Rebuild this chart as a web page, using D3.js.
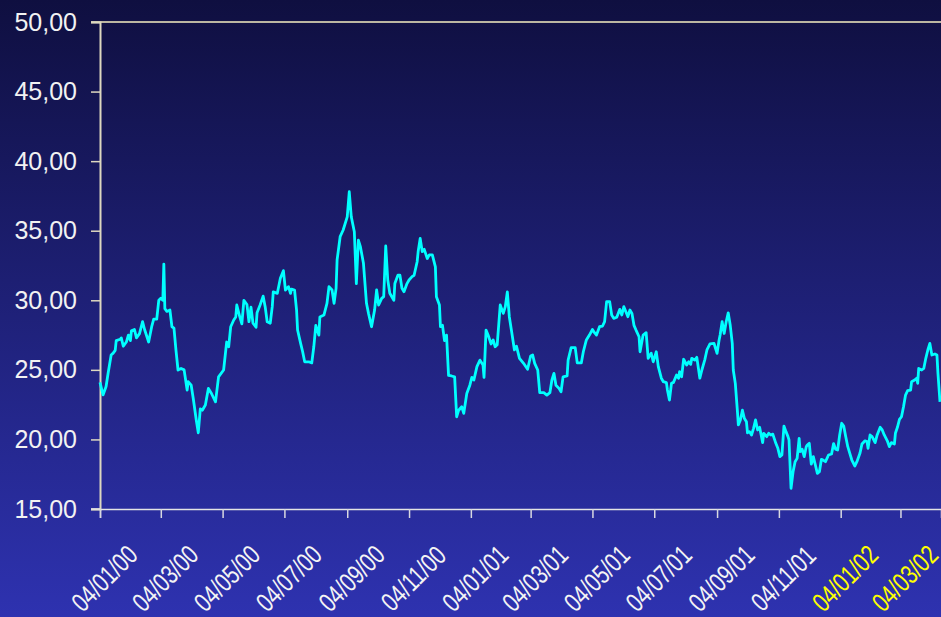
<!DOCTYPE html>
<html>
<head>
<meta charset="utf-8">
<script src="https://cdn.jsdelivr.net/npm/d3@7"></script>
<style>
  html, body { margin: 0; padding: 0; overflow: hidden; }
  svg { display: block; }
</style>
</head>
<body>
<div id="chart"></div>
<script>
// start of the series: 04/01/00
var startDate = "2000-01-04";

// days after start
var dayOffsets = [0, 3, 6, 8, 11, 13, 15, 16, 20, 21, 23, 26, 28, 30, 31, 34, 36, 39, 42, 44,
    48, 51, 53, 56, 58, 60, 62, 63, 64, 66, 69, 71, 73, 75, 77, 80, 83, 86, 87, 90,
    92, 95, 97, 99, 101, 104, 107, 110, 114, 117, 122, 125, 127, 129, 132, 134, 135, 138, 140, 142,
    145, 147, 149, 151, 154, 155, 158, 161, 163, 165, 168, 170, 171, 175, 176, 178, 181, 183, 186, 188,
    189, 192, 194, 195, 198, 200, 202, 206, 209, 211, 213, 216, 217, 221, 224, 226, 229, 231, 233, 234,
    237, 240, 244, 246, 248, 251, 253, 255, 257, 260, 263, 265, 268, 271, 273, 275, 278, 280, 282, 284,
    286, 290, 291, 294, 296, 298, 300, 303, 305, 308, 310, 313, 314, 316, 318, 320, 323, 325, 328, 331,
    332, 335, 336, 338, 340, 342, 344, 347, 350, 352, 354, 357, 359, 362, 365, 367, 369, 372, 375, 378,
    379, 381, 383, 386, 388, 390, 392, 395, 398, 400, 402, 404, 406, 409, 411, 414, 418, 422, 425, 427,
    429, 432, 434, 438, 441, 444, 446, 448, 450, 453, 455, 457, 461, 462, 465, 469, 471, 475, 477, 480,
    483, 486, 488, 490, 493, 496, 498, 500, 503, 505, 507, 510, 513, 515, 517, 519, 521, 523, 525, 527,
    529, 532, 533, 536, 539, 541, 544, 546, 549, 551, 554, 556, 559, 560, 562, 564, 566, 569, 571, 572,
    574, 576, 579, 581, 583, 584, 587, 589, 592, 594, 597, 599, 602, 606, 607, 609, 611, 612, 614, 616,
    618, 620, 622, 624, 625, 627, 629, 630, 632, 634, 636, 638, 639, 641, 643, 645, 647, 649, 651, 654,
    655, 658, 660, 662, 664, 667, 669, 671, 673, 675, 677, 679, 680, 682, 684, 686, 688, 690, 691, 693,
    695, 697, 698, 700, 702, 704, 706, 708, 710, 712, 714, 716, 719, 722, 724, 726, 728, 730, 732, 734,
    736, 738, 740, 742, 745, 747, 750, 752, 755, 757, 758, 760, 762, 765, 767, 770, 772, 774, 777, 779,
    781, 784, 785, 787, 789, 791, 793, 795, 797, 800, 801, 804, 806, 807, 808, 811, 813, 815, 817, 819,
    821, 824, 826, 827, 829];

var prices = [24.1, 23.2, 23.8, 24.75, 26.07, 26.2, 26.4, 27.1, 27.2, 27.3, 26.7, 27.0, 27.5, 27.1, 27.8, 27.9, 27.3, 27.6, 28.46, 27.9,
    27.0, 28.1, 28.65, 28.65, 30.0, 30.14, 30.0, 32.6, 29.4, 29.2, 29.3, 28.1, 28.0, 26.4, 24.99, 25.1, 25.0, 23.55, 24.15, 23.9,
    22.96, 21.4, 20.48, 22.2, 22.1, 22.47, 23.67, 23.3, 22.7, 24.5, 24.99, 27.0, 26.66, 28.1, 28.58, 28.8, 29.66, 28.8, 28.3, 30.0,
    29.7, 28.46, 29.5, 28.35, 28.06, 29.1, 29.66, 30.3, 29.54, 28.46, 28.35, 29.54, 30.6, 30.5, 30.86, 31.58, 32.13, 30.74, 30.98, 30.5,
    30.8, 30.74, 29.3, 27.86, 26.9, 26.3, 25.58, 25.58, 25.5, 26.66, 28.2, 27.5, 28.8, 28.94, 29.78, 30.98, 30.74, 29.78, 30.86, 32.9,
    34.57, 35.05, 36.0, 37.8, 36.0, 34.93, 31.2, 34.33, 33.85, 32.66, 29.78, 29.06, 28.1, 29.3, 30.74, 29.66, 30.14, 30.26, 33.9, 31.46,
    30.5, 30.0, 31.2, 31.8, 31.8, 30.86, 30.62, 31.2, 31.46, 31.7, 31.8, 32.77, 33.5, 34.45, 33.5, 33.66, 33.0, 33.26, 33.26, 32.4,
    30.26, 29.66, 28.1, 28.2, 27.1, 27.5, 24.6, 24.56, 24.5, 21.63, 22.1, 22.35, 21.87, 23.3, 23.9, 24.46, 24.27, 25.23, 25.7, 25.35,
    24.46, 27.86, 27.5, 26.86, 27.15, 26.66, 26.8, 29.66, 29.06, 29.54, 30.6, 28.8, 27.86, 26.43, 26.7, 25.83, 25.47, 25.04, 26.0, 26.07,
    25.47, 24.99, 23.36, 23.36, 23.19, 23.36, 24.27, 24.75, 23.9, 23.67, 23.43, 24.5, 24.56, 25.7, 26.6, 26.6, 25.5, 25.5, 26.3, 27.15,
    27.5, 27.9, 27.67, 27.5, 28.1, 28.15, 28.46, 29.9, 29.9, 28.94, 28.7, 28.78, 29.35, 28.94, 29.54, 29.18, 28.82, 29.3, 29.06, 28.2,
    27.86, 27.38, 26.3, 27.5, 27.67, 25.83, 26.19, 25.58, 26.3, 25.23, 24.4, 24.15, 24.08, 23.55, 22.83, 24.03, 24.1, 24.63, 24.4, 24.87,
    24.5, 25.76, 25.35, 25.58, 25.4, 25.83, 25.7, 25.9, 24.4, 24.99, 25.76, 26.43, 26.86, 26.9, 26.66, 26.19, 27.15, 27.5, 28.46, 27.62,
    28.46, 29.1, 28.2, 26.9, 24.99, 24.03, 22.1, 21.04, 21.4, 22.1, 21.5, 21.27, 20.48, 20.56, 20.32, 20.8, 21.4, 20.68, 20.87, 19.77,
    20.44, 20.2, 20.44, 20.32, 20.38, 19.72, 19.36, 18.76, 18.88, 20.96, 20.56, 20.2, 19.96, 16.49, 17.68, 18.4, 18.64, 20.08, 19.12, 19.29,
    18.76, 19.48, 19.6, 19.72, 18.23, 18.76, 18.16, 17.56, 17.68, 18.57, 18.5, 18.4, 18.88, 18.95, 19.7, 19.3, 19.24, 20.32, 21.16, 20.96,
    20.2, 19.48, 19.0, 18.52, 18.09, 18.4, 19.0, 19.67, 19.9, 19.85, 19.36, 20.32, 20.2, 19.77, 20.32, 20.87, 20.68, 20.32, 19.9, 19.48,
    19.77, 19.67, 20.44, 20.87, 21.44, 21.63, 22.35, 23.19, 23.5, 23.55, 24.15, 24.27, 24.4, 24.03, 25.1, 24.99, 25.1, 25.83, 26.43, 26.9,
    26.07, 26.14, 26.07, 24.75, 22.7];

var tickDates = ["04/01/00", "04/03/00", "04/05/00", "04/07/00", "04/09/00", "04/11/00", "04/01/01",
    "04/03/01", "04/05/01", "04/07/01", "04/09/01", "04/11/01", "04/01/02", "04/03/02"];
var yTicks = [15, 20, 25, 30, 35, 40, 45, 50];
var lastDay = 830;

var width = 941, height = 617;
var parseIso = d3.timeParse("%Y-%m-%d");
var parseTick = d3.timeParse("%d/%m/%y");
var start = parseIso(startDate);

var data = dayOffsets.map(function (d, i) {
    return { date: d3.timeDay.offset(start, d), value: prices[i] };
});

var svg = d3.select("#chart")
    .append("svg")
    .attr("width", width)
    .attr("height", height);

var grad = svg.append("defs").append("linearGradient")
    .attr("id", "bg")
    .attr("x1", 0).attr("y1", 0)
    .attr("x2", 0).attr("y2", 1);
grad.append("stop").attr("offset", "0%").attr("stop-color", "#0f0f40");
grad.append("stop").attr("offset", "100%").attr("stop-color", "#2e32b0");

svg.append("rect")
    .attr("width", width)
    .attr("height", height)
    .attr("fill", "url(#bg)");

var x = d3.scaleTime()
    .domain([start, d3.timeDay.offset(start, lastDay)])
    .range([100, 941]);
var y = d3.scaleLinear()
    .domain([15, 50])
    .range([509, 22]);

// top border
svg.append("line")
    .attr("x1", 91).attr("x2", width)
    .attr("y1", y(50)).attr("y2", y(50))
    .attr("stroke", "#f4eec0")
    .attr("stroke-width", 1.5);

// y axis
var yAxis = svg.append("g")
    .attr("transform", "translate(100,0)")
    .call(d3.axisLeft(y).tickValues(yTicks).tickSize(9).tickPadding(14)
        .tickFormat(function (d) { return d3.format(".2f")(d).replace(".", ","); }));
yAxis.select(".domain").attr("stroke", "#ddd8c0").attr("stroke-width", 2);
yAxis.selectAll(".tick line").attr("stroke", "#ddd8c0").attr("stroke-width", 1.5);
yAxis.selectAll(".tick text")
    .attr("fill", "#f2f2f2")
    .style("font-family", "Liberation Sans, Arial, sans-serif")
    .style("font-size", "25px");

// x axis
var xAxis = svg.append("g")
    .attr("transform", "translate(0,509)")
    .call(d3.axisBottom(x).tickValues(tickDates.map(parseTick)).tickSize(9).tickFormat(""));
xAxis.select(".domain").attr("stroke", "#e4e4e4").attr("stroke-width", 1.5);
svg.append("line")
    .attr("x1", 91).attr("x2", 100)
    .attr("y1", 509).attr("y2", 509)
    .attr("stroke", "#e4e4e4").attr("stroke-width", 1.5);
xAxis.selectAll(".tick line").attr("stroke", "#d8d8e0").attr("stroke-width", 1.5);

// rotated, condensed date labels
svg.append("g")
    .selectAll("text")
    .data(tickDates)
    .enter()
    .append("text")
    .attr("transform", function (d) {
        return "translate(" + (x(parseTick(d)) + 11) + ",585) rotate(-45) scale(0.76,1)";
    })
    .attr("text-anchor", "middle")
    .style("font-family", "Liberation Sans, Arial, sans-serif")
    .style("font-size", "27px")
    .attr("fill", function (d) {
        return parseTick(d).getFullYear() >= 2002 ? "#ffff00" : "#f4f4f4";
    })
    .text(function (d) { return d; });

// price line
var line = d3.line()
    .x(function (d) { return x(d.date); })
    .y(function (d) { return y(d.value); });

svg.append("path")
    .datum(data)
    .attr("d", line)
    .attr("fill", "none")
    .attr("stroke", "#00ffff")
    .attr("stroke-width", 2.8)
    .attr("stroke-linejoin", "round");
</script>
</body>
</html>
